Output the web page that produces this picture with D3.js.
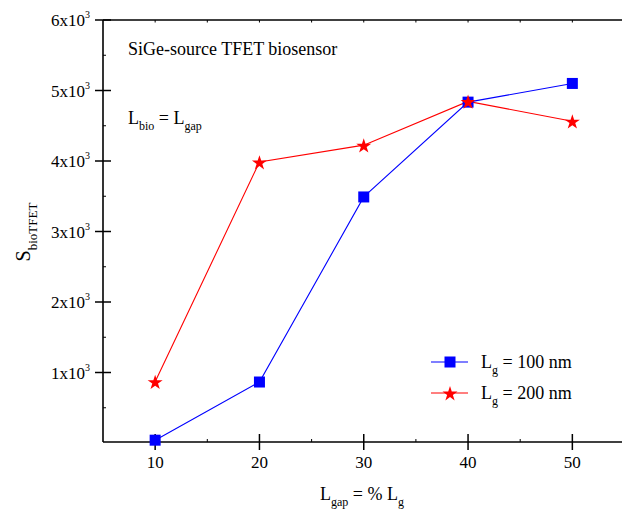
<!DOCTYPE html>
<html><head><meta charset="utf-8">
<script src="https://cdn.jsdelivr.net/npm/d3@7"></script>
<style>body{margin:0;background:#fff}svg{display:block}text{font-family:"Liberation Serif","Times New Roman",serif;fill:#000}</style>
</head><body><svg id="c" width="622" height="513"></svg>
<script>
const xValues = [10, 20, 30, 40, 50];
const lg100 = [40, 865, 3490, 4835, 5100];
const lg200 = [870, 3985, 4225, 4845, 4565];
const xTicks = [10, 20, 30, 40, 50];
const yTickMantissas = [1, 2, 3, 4, 5, 6];
const seriesNames = ["L_g = 100 nm", "L_g = 200 nm"];

const svg = d3.select("#c");
const x = d3.scaleLinear().domain([5, 55]).range([103, 624.5]);
const y = d3.scaleLinear().domain([0, 6000]).range([443, 20]);
const X0 = 103, Y0 = 442, YT = 20;

// frame lines
svg.append("line").attr("x1", X0).attr("x2", 622).attr("y1", Y0).attr("y2", Y0).attr("stroke", "#000").attr("stroke-width", 1.6);
svg.append("line").attr("x1", X0).attr("x2", 622).attr("y1", YT).attr("y2", YT).attr("stroke", "#000").attr("stroke-width", 1.6);
svg.append("line").attr("x1", X0).attr("x2", X0).attr("y1", YT).attr("y2", Y0).attr("stroke", "#000").attr("stroke-width", 1.6);

// bottom axis ticks
const minorX = d3.range(15, 55, 10);
svg.selectAll(".xmaj").data(xTicks).enter().append("line")
  .attr("x1", d => x(d)).attr("x2", d => x(d)).attr("y1", Y0 - 8).attr("y2", Y0 + 8)
  .attr("stroke", "#000").attr("stroke-width", 1.5);
svg.selectAll(".xmin").data(minorX).enter().append("line")
  .attr("x1", d => x(d)).attr("x2", d => x(d)).attr("y1", Y0 - 3).attr("y2", Y0)
  .attr("stroke", "#000").attr("stroke-width", 1);
// top axis tiny ticks
svg.selectAll(".xtop").data(d3.range(10, 55, 5)).enter().append("line")
  .attr("x1", d => x(d)).attr("x2", d => x(d)).attr("y1", YT).attr("y2", YT + 2.5)
  .attr("stroke", "#000").attr("stroke-width", 1);
svg.selectAll(".xl").data(xTicks).enter().append("text")
  .attr("x", d => x(d)).attr("y", 468).attr("text-anchor", "middle").attr("font-size", 17).text(d => d);

// left axis ticks
svg.selectAll(".ymaj").data(yTickMantissas).enter().append("line")
  .attr("x1", X0 - 8).attr("x2", X0 + 8).attr("y1", d => y(d * 1000)).attr("y2", d => y(d * 1000))
  .attr("stroke", "#000").attr("stroke-width", 1.5);
svg.selectAll(".ymin").data(d3.range(500, 6000, 1000)).enter().append("line")
  .attr("x1", X0).attr("x2", X0 + 3).attr("y1", d => y(d)).attr("y2", d => y(d))
  .attr("stroke", "#000").attr("stroke-width", 1);
const yl = svg.selectAll(".yl").data(yTickMantissas).enter().append("text")
  .attr("x", 90).attr("y", d => y(d * 1000) + 6).attr("text-anchor", "end").attr("font-size", 17);
yl.append("tspan").text(d => d + "x10");
yl.append("tspan").attr("font-size", 10).attr("dy", -8).text("3");

// series
const line = d3.line().x(d => x(d[0])).y(d => y(d[1]));
const d100 = xValues.map((v, i) => [v, lg100[i]]);
const d200 = xValues.map((v, i) => [v, lg200[i]]);
svg.append("path").datum(d200).attr("d", line).attr("fill", "none").attr("stroke", "#ff0000").attr("stroke-width", 1.1);
svg.append("path").datum(d100).attr("d", line).attr("fill", "none").attr("stroke", "#0000ff").attr("stroke-width", 1.1);
const star = d3.symbol().type(d3.symbolStar).size(70);
svg.selectAll(".sq").data(d100).enter().append("rect")
  .attr("x", d => x(d[0]) - 5.5).attr("y", d => y(d[1]) - 5.5).attr("width", 11).attr("height", 11).attr("fill", "#0000ff");
svg.selectAll(".st").data(d200).enter().append("path")
  .attr("d", star).attr("transform", d => `translate(${x(d[0])},${y(d[1]) + 1})`).attr("fill", "#ff0000");

// legend
const legY = [362, 393];
const legColors = ["#0000ff", "#ff0000"];
legY.forEach((ly, i) => {
  svg.append("line").attr("x1", 431).attr("x2", 468).attr("y1", ly).attr("y2", ly).attr("stroke", legColors[i]).attr("stroke-width", 1.1);
  if (i === 0) svg.append("rect").attr("x", 444.5).attr("y", ly - 5.5).attr("width", 11).attr("height", 11).attr("fill", legColors[i]);
  else svg.append("path").attr("d", star).attr("transform", `translate(450,${ly + 1})`).attr("fill", legColors[i]);
  const t = svg.append("text").attr("x", 481).attr("y", ly + 6).attr("font-size", 18);
  t.append("tspan").text("L");
  t.append("tspan").attr("font-size", 12).attr("dy", 6).text("g");
  t.append("tspan").attr("dy", -6).text(i === 0 ? " = 100 nm" : " = 200 nm");
});

// annotations
svg.append("text").attr("x", 128).attr("y", 55).attr("font-size", 18).text("SiGe-source TFET biosensor");
const a = svg.append("text").attr("x", 128).attr("y", 124).attr("font-size", 18);
a.append("tspan").text("L");
a.append("tspan").attr("font-size", 12).attr("dy", 6).text("bio");
a.append("tspan").attr("dy", -6).text(" = L");
a.append("tspan").attr("font-size", 12).attr("dy", 6).text("gap");

// axis titles
const xt = svg.append("text").attr("x", 362).attr("y", 500).attr("text-anchor", "middle").attr("font-size", 18);
xt.append("tspan").text("L");
xt.append("tspan").attr("font-size", 12).attr("dy", 6).text("gap");
xt.append("tspan").attr("dy", -6).text(" = % L");
xt.append("tspan").attr("font-size", 12).attr("dy", 6).text("g");

const yt = svg.append("text").attr("transform", "translate(30,232) rotate(-90)").attr("text-anchor", "middle").attr("font-size", 20);
yt.append("tspan").text("S");
yt.append("tspan").attr("font-size", 13).attr("dy", 7).text("bioTFET");
</script></body></html>
